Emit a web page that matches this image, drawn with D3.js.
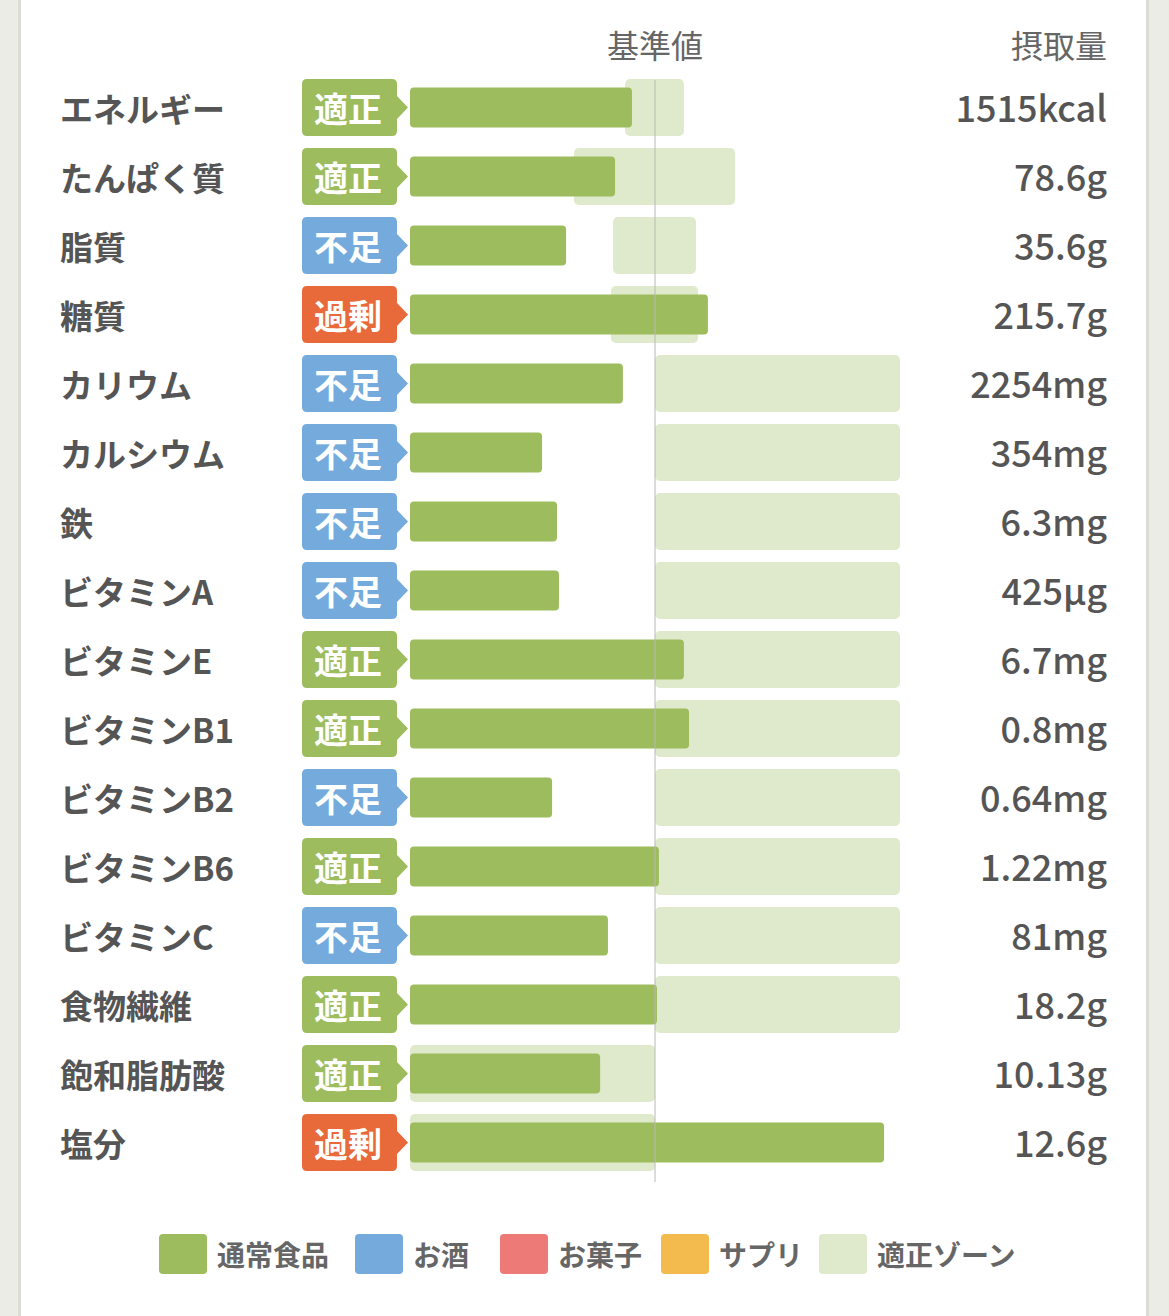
<!DOCTYPE html>
<html>
<head>
<meta charset="utf-8">
<script src="https://cdn.jsdelivr.net/npm/d3@7"></script>
<style>
  html, body { margin: 0; padding: 0; background: #ecece6; }
  svg { display: block; font-family: "Noto Sans CJK JP", "Noto Sans", sans-serif; }
</style>
</head>
<body>
<div id="chart"></div>
<script>
// nutrient rows, intake as % of the standard value (基準値 = 100)
var nutrients = ["エネルギー", "たんぱく質", "脂質", "糖質", "カリウム", "カルシウム", "鉄",
  "ビタミンA", "ビタミンE", "ビタミンB1", "ビタミンB2", "ビタミンB6", "ビタミンC",
  "食物繊維", "飽和脂肪酸", "塩分"];
var statuses = ["適正", "適正", "不足", "過剰", "不足", "不足", "不足",
  "不足", "適正", "適正", "不足", "適正", "不足", "適正", "適正", "過剰"];
var intake = [90.6, 83.7, 63.7, 121.6, 86.9, 53.9, 60.0, 60.8, 111.8, 113.9, 58.0, 101.6, 80.8, 100.8, 77.6, 193.5];
var zoneLow = [87.8, 66.9, 82.9, 82.0, 100, 100, 100, 100, 100, 100, 100, 100, 100, 100, 0, 0];
var zoneHigh = [111.8, 132.7, 116.7, 117.6, 200, 200, 200, 200, 200, 200, 200, 200, 200, 200, 100, 100];
var amounts = ["1515kcal", "78.6g", "35.6g", "215.7g", "2254mg", "354mg", "6.3mg", "425µg",
  "6.7mg", "0.8mg", "0.64mg", "1.22mg", "81mg", "18.2g", "10.13g", "12.6g"];
var legendNames = ["通常食品", "お酒", "お菓子", "サプリ", "適正ゾーン"];
var legendColors = ["#9dbc5d", "#74abdc", "#ee7a78", "#f3bb4d", "#dfe9cc"];

var statusColor = { "適正": "#9dbc5d", "不足": "#74abdc", "過剰": "#e8693a" };

var W = 1169, H = 1316;
var svg = d3.select("#chart").append("svg")
  .attr("width", W)
  .attr("height", H);

// card
svg.append("rect").attr("x", 18).attr("y", 0).attr("width", 1131).attr("height", H).attr("fill", "#dcdcd6");
svg.append("rect").attr("x", 21).attr("y", 0).attr("width", 1125).attr("height", H).attr("fill", "#ffffff");

var x = d3.scaleLinear().domain([0, 200]).range([410, 900]);
var y = d3.scaleBand().domain(nutrients).range([73, 73 + 69 * nutrients.length]);

var rows = nutrients.map(function(n, i) {
  return { name: n, status: statuses[i], value: intake[i], lo: zoneLow[i], hi: zoneHigh[i], amount: amounts[i] };
});

function cy(d) { return y(d.name) + y.bandwidth() / 2; }

// header
svg.append("text")
  .attr("x", x(100)).attr("y", 44)
  .attr("text-anchor", "middle").attr("dominant-baseline", "central")
  .attr("font-size", 32).attr("fill", "#666")
  .text("基準値");
svg.append("text")
  .attr("x", 1107).attr("y", 44)
  .attr("text-anchor", "end").attr("dominant-baseline", "central")
  .attr("font-size", 32).attr("fill", "#666")
  .text("摂取量");

// labels
svg.append("g").selectAll("text")
  .data(rows)
  .enter().append("text")
  .attr("x", 60)
  .attr("y", function(d) { return cy(d); })
  .attr("dominant-baseline", "central")
  .attr("font-size", 33).attr("font-weight", 700).attr("fill", "#555")
  .text(function(d) { return d.name; });

// status badges
var badge = svg.append("g").selectAll("g")
  .data(rows)
  .enter().append("g")
  .attr("transform", function(d) { return "translate(302," + (cy(d) - 28.5) + ")"; });

badge.append("path")
  .attr("d", "M5,0 H90 Q95,0 95,5 V17 L106,28.5 L95,40 V52 Q95,57 90,57 H5 Q0,57 0,52 V5 Q0,0 5,0 Z")
  .attr("fill", function(d) { return statusColor[d.status]; });

badge.append("text")
  .attr("x", 46).attr("y", 28.5)
  .attr("text-anchor", "middle").attr("dominant-baseline", "central")
  .attr("font-size", 34).attr("font-weight", 700).attr("fill", "#fff")
  .text(function(d) { return d.status; });

// appropriate zones
svg.append("g").selectAll("rect")
  .data(rows)
  .enter().append("rect")
  .attr("x", function(d) { return x(d.lo); })
  .attr("width", function(d) { return x(d.hi) - x(d.lo); })
  .attr("y", function(d) { return cy(d) - 28.5; })
  .attr("height", 57)
  .attr("rx", 5)
  .attr("fill", "#dfe9cc");

// intake bars
svg.append("g").selectAll("rect")
  .data(rows)
  .enter().append("rect")
  .attr("x", x(0))
  .attr("width", function(d) { return x(d.value) - x(0); })
  .attr("y", function(d) { return cy(d) - 20; })
  .attr("height", 40)
  .attr("rx", 4)
  .attr("fill", "#9dbc5d");

// standard line
svg.append("line")
  .attr("x1", x(100)).attr("x2", x(100))
  .attr("y1", 80).attr("y2", 1182)
  .attr("stroke", "#b8b8b8").attr("stroke-width", 1);

// amounts
svg.append("g").selectAll("text")
  .data(rows)
  .enter().append("text")
  .attr("x", 1107)
  .attr("y", function(d) { return cy(d) - 2; })
  .attr("text-anchor", "end").attr("dominant-baseline", "central")
  .attr("font-size", 36).attr("font-weight", 500).attr("fill", "#555")
  .text(function(d) { return d.amount; });

// legend
var legendX = [159, 355, 500, 661, 819];
var leg = svg.append("g").selectAll("g")
  .data(legendNames)
  .enter().append("g")
  .attr("transform", function(d, i) { return "translate(" + legendX[i] + ",1234)"; });

leg.append("rect")
  .attr("width", 48).attr("height", 40).attr("rx", 4)
  .attr("fill", function(d, i) { return legendColors[i]; });

leg.append("text")
  .attr("x", 58).attr("y", 20)
  .attr("dominant-baseline", "central")
  .attr("font-size", 28).attr("font-weight", 700).attr("fill", "#666")
  .text(function(d) { return d; });
</script>
</body>
</html>
